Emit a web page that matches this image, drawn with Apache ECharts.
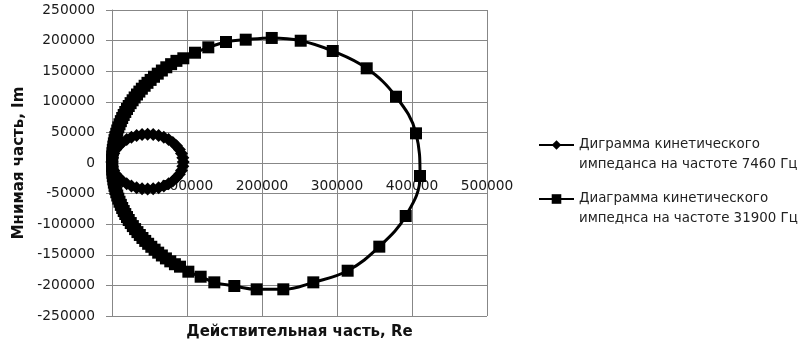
<!DOCTYPE html>
<html>
<head>
<meta charset="utf-8">
<script src="https://cdn.jsdelivr.net/npm/echarts@6/dist/echarts.min.js"></script>
<style>html,body{margin:0;padding:0;background:#fff}#c{width:808px;height:355px}</style>
</head>
<body>
<div id="c"></div>
<script>
// Series 1: 7460 Hz (diamonds)
var s1Re = [0, 600, 2300, 5200, 9100, 13900, 19600, 25900, 32800, 40100, 47500, 54900, 62200, 69100, 75400, 81100, 85900, 89800, 92700, 94400, 95000, 94400, 92700, 89800, 85900, 81100, 75400, 69100, 62200, 54900, 47500, 40100, 32800, 25900, 19600, 13900, 9100, 5200, 2300, 600, 0];
var s1Im = [1500, 8600, 15600, 22200, 28200, 33700, 38300, 42000, 44800, 46400, 47000, 46400, 44800, 42000, 38300, 33700, 28200, 22200, 15600, 8600, 1500, -5400, -12200, -18500, -24300, -29600, -34000, -37600, -40300, -41900, -42500, -41900, -40300, -37600, -34000, -29600, -24300, -18500, -12200, -5400, 1500];
// Series 2: 31900 Hz (squares)
var s2Re = [0, 100, 300, 600, 1100, 1800, 2500, 3400, 4500, 5700, 7000, 8400, 10000, 11800, 13600, 15600, 17700, 20000, 22300, 24800, 27500, 30200, 33300, 36500, 39800, 43500, 47300, 51500, 56000, 61000, 66500, 72400, 78800, 85900,
  95100, 110700, 128400, 152000, 178300, 213000, 251600, 294300, 339600, 378700, 405300, 410700, 391600, 356400, 314200, 268400, 228400, 192900, 163100, 136400, 118200, 101800, 90700,
  83900, 77700, 71900, 66500, 61600, 56800, 52400, 48200, 44300, 40600, 37100, 33900, 30800, 27800, 25000, 22300, 20000, 17700, 15600, 13600, 11800, 10000, 8400, 7000, 5700, 4500, 3400, 2500, 1800, 1100, 600, 300, 100, 0];
var s2Im = [0, 5400, 10700, 16100, 21400, 26800, 32100, 37400, 42600, 47800, 53100, 58200, 63300, 68400, 73500, 78500, 83400, 88300, 93100, 97800, 102500, 107100, 111900, 116700, 121400, 126200, 131000, 135800, 140900, 146000, 151100, 156400, 161500, 166900,
  171100, 180200, 189000, 197700, 201500, 204300, 199800, 183000, 154700, 108300, 48500, -21200, -86600, -136700, -176000, -195000, -206400, -206400, -201000, -195000, -185800, -177600, -169400,
  -165400, -160700, -155900, -151100, -146500, -141600, -136900, -132000, -127300, -122500, -117600, -112900, -108000, -103100, -98100, -93100, -88300, -83400, -78500, -73500, -68400, -63300, -58200, -53100, -47800, -42600, -37400, -32100, -26800, -21400, -16100, -10700, -5400, 0];
var name1 = 'Диграмма кинетического\nимпеданса на частоте 7460 Гц';
var name2 = 'Диаграмма кинетического\nимпеднса на частоте 31900 Гц';
var yTicks = [-250000, 250000, 50000];
var xTicks = [0, 500000, 100000];

function zip(a, b) { return a.map(function (v, i) { return [v, b[i]]; }); }
function plain(v) { return String(v); }
function legendFmt(n) { return '\n' + n; }

var chart = echarts.init(document.getElementById('c'));
var gridColor = '#878787';
var lbl = {color: '#1a1a1a', fontFamily: 'DejaVu Sans', fontSize: 13.8, formatter: plain};
var legendText = {color: '#222', fontFamily: 'DejaVu Sans', fontSize: 13.4, lineHeight: 20};
var titleFont = {fontFamily: 'DejaVu Sans', fontWeight: 'bold', fontSize: 15, color: '#111'};
chart.setOption({
  backgroundColor: '#fff',
  animation: false,
  grid: {left: 112, right: 321, top: 10, bottom: 39, outerBoundsMode: 'none'},
  xAxis: {
    type: 'value', min: xTicks[0], max: xTicks[1], interval: xTicks[2],
    offset: -153,
    axisLine: {show: true, onZero: false, lineStyle: {color: gridColor, width: 1}},
    axisTick: {show: false},
    splitLine: {show: true, lineStyle: {color: gridColor, width: 1}},
    axisLabel: Object.assign({margin: 16}, lbl),
    name: 'Действительная часть, Re', nameLocation: 'middle', nameGap: 162,
    nameTextStyle: titleFont
  },
  yAxis: {
    type: 'value', min: yTicks[0], max: yTicks[1], interval: yTicks[2],
    axisLine: {show: true, onZero: false, lineStyle: {color: gridColor, width: 1}},
    axisTick: {show: true, length: 6, lineStyle: {color: gridColor, width: 1}},
    splitLine: {show: true, lineStyle: {color: gridColor, width: 1}},
    axisLabel: Object.assign({margin: 17}, lbl),
    name: 'Мнимая часть, Im', nameLocation: 'middle', nameGap: 85, nameRotate: 90,
    nameTextStyle: titleFont
  },
  legend: [
    {orient: 'vertical', left: 533, top: 110, itemWidth: 35, itemHeight: 12, data: [name1], formatter: legendFmt, textStyle: legendText, padding: 5},
    {orient: 'vertical', left: 533, top: 164, itemWidth: 35, itemHeight: 12, data: [name2], formatter: legendFmt, textStyle: legendText, padding: 5}
  ],
  series: [
    {
      name: name1, type: 'line', data: zip(s1Re, s1Im), smooth: 0.4, clip: false,
      symbol: 'diamond', symbolSize: 13, showAllSymbol: true,
      lineStyle: {color: '#000', width: 3}, itemStyle: {color: '#000'}
    },
    {
      name: name2, type: 'line', data: zip(s2Re, s2Im), smooth: 0.4, clip: false,
      symbol: 'rect', symbolSize: 12, showAllSymbol: true,
      lineStyle: {color: '#000', width: 3}, itemStyle: {color: '#000'}
    }
  ]
});
</script>
</body>
</html>
